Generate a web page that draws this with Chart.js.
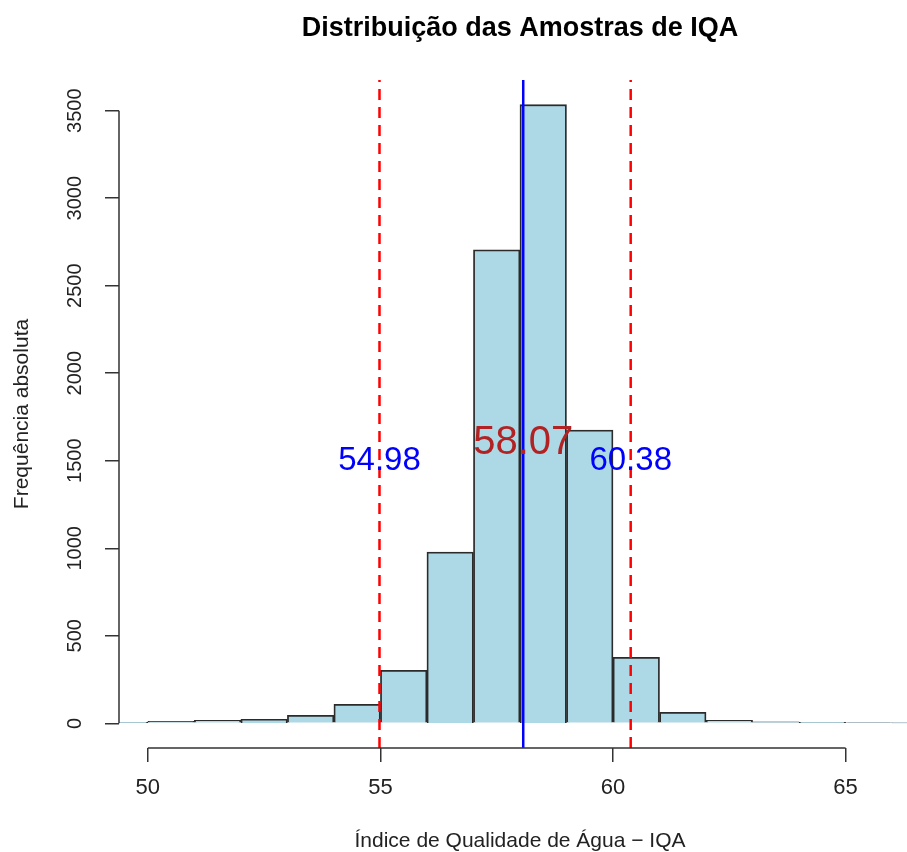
<!DOCTYPE html>
<html>
<head>
<meta charset="utf-8">
<script src="https://cdn.jsdelivr.net/npm/chart.js@4.4.0/dist/chart.umd.min.js"></script>
<style>
  body { margin: 0; background: #fff; }
  #wrap { width: 907px; height: 852px; position: relative; }
</style>
</head>
<body>
<div id="wrap"><canvas id="histChart"></canvas></div>
<script>
// histogram bins (left edges, width 1) and counts
const binStarts = [49, 50, 51, 52, 53, 54, 55, 56, 57, 58, 59, 60, 61, 62, 63, 64, 65, 66];
const counts    = [5, 11, 17, 23, 46, 109, 303, 978, 2705, 3534, 1675, 377, 63, 17, 9, 5, 3, 2];

// reference lines
const lowerQ = 54.98;
const meanVal = 58.07;
const upperQ = 60.38;

const xTicks = [50, 55, 60, 65];
const yTicks = [0, 500, 1000, 1500, 2000, 2500, 3000, 3500];

const xMin = 49.38, xMax = 66.32;
const yMin = -141, yMax = 3675;
const labelY = 1500;   // height of the blue labels
const meanLabelY = 1600;

const titleText = 'Distribuição das Amostras de IQA';
const xTitle = 'Índice de Qualidade de Água \u2212 IQA';
const yTitle = 'Frequência absoluta';

const FONT = '"Liberation Sans", Arial, sans-serif';

const vline = (x) => [{ x: x, y: yMin }, { x: x, y: yMax }];

// R-style axes: partial lines, rotated y labels, titles, text labels
const rStyle = {
    id: 'rStyle',
    afterDatasetsDraw(chart) {
        const ctx = chart.ctx;
        const xs = chart.scales.x, ys = chart.scales.y;
        const area = chart.chartArea;
        ctx.save();

        // axis lines only over tick range
        ctx.strokeStyle = '#333';
        ctx.lineWidth = 1.5;
        ctx.beginPath();
        ctx.moveTo(area.left, ys.getPixelForValue(yTicks[0]));
        ctx.lineTo(area.left, ys.getPixelForValue(yTicks[yTicks.length - 1]));
        ctx.moveTo(xs.getPixelForValue(xTicks[0]), area.bottom);
        ctx.lineTo(xs.getPixelForValue(xTicks[xTicks.length - 1]), area.bottom);
        ctx.stroke();

        // y tick labels, rotated
        ctx.fillStyle = '#222';
        ctx.font = '20px ' + FONT;
        ctx.textAlign = 'center';
        ctx.textBaseline = 'middle';
        yTicks.forEach(v => {
            ctx.save();
            ctx.translate(area.left - 44, ys.getPixelForValue(v));
            ctx.rotate(-Math.PI / 2);
            ctx.fillText(String(v), 0, 0);
            ctx.restore();
        });

        // y title
        ctx.font = '21px ' + FONT;
        ctx.save();
        ctx.translate(22, (area.top + area.bottom) / 2);
        ctx.rotate(-Math.PI / 2);
        ctx.fillText(yTitle, 0, 0);
        ctx.restore();

        // x title
        ctx.fillText(xTitle, (area.left + area.right) / 2 + 7, 841);

        // main title
        ctx.fillStyle = '#000';
        ctx.font = 'bold 27px ' + FONT;
        ctx.fillText(titleText, (area.left + area.right) / 2 + 7, 29);

        // value labels
        ctx.font = '33px ' + FONT;
        ctx.fillStyle = '#0000FF';
        ctx.fillText(lowerQ.toFixed(2), xs.getPixelForValue(lowerQ), ys.getPixelForValue(labelY));
        ctx.fillText(upperQ.toFixed(2), xs.getPixelForValue(upperQ), ys.getPixelForValue(labelY));
        ctx.font = '40px ' + FONT;
        ctx.fillStyle = '#B22222';
        ctx.fillText(meanVal.toFixed(2), xs.getPixelForValue(meanVal), ys.getPixelForValue(meanLabelY));

        ctx.restore();
    }
};

new Chart(document.getElementById('histChart'), {
    type: 'bar',
    data: {
        datasets: [
            {
                type: 'bar',
                data: binStarts.map((b, i) => ({ x: b + 0.5, y: counts[i] })),
                backgroundColor: '#ADD8E6',
                borderColor: '#2b2b2b',
                borderWidth: 1.8,
                barPercentage: 1,
                categoryPercentage: 1,
                order: 2
            },
            {
                type: 'line', data: vline(lowerQ), borderColor: '#FF0000', borderWidth: 2.5,
                borderDash: [11, 7], pointRadius: 0, order: 1
            },
            {
                type: 'line', data: vline(upperQ), borderColor: '#FF0000', borderWidth: 2.5,
                borderDash: [11, 7], pointRadius: 0, order: 1
            },
            {
                type: 'line', data: vline(meanVal), borderColor: '#0000FF', borderWidth: 2.5,
                pointRadius: 0, order: 0
            }
        ]
    },
    options: {
        responsive: true,
        maintainAspectRatio: false,
        animation: false,
        layout: { padding: { top: 80, left: 0, right: 0, bottom: 0 } },
        plugins: { legend: { display: false }, tooltip: { enabled: false }, title: { display: false } },
        scales: {
            x: {
                type: 'linear', min: xMin, max: xMax, offset: false,
                afterBuildTicks: (s) => { s.ticks = xTicks.map(v => ({ value: v })); },
                afterFit: (s) => { s.height = 104; },
                ticks: { font: { size: 22, family: FONT }, color: '#222', padding: 13, maxRotation: 0 },
                grid: { offset: false, drawOnChartArea: false, tickLength: 14, color: '#333', lineWidth: 1.5 },
                border: { display: false }
            },
            y: {
                type: 'linear', min: yMin, max: yMax,
                afterBuildTicks: (s) => { s.ticks = yTicks.map(v => ({ value: v })); },
                afterFit: (s) => { s.width = 119; },
                ticks: { display: false },
                grid: { drawOnChartArea: false, tickLength: 14, color: '#333', lineWidth: 1.5 },
                border: { display: false }
            }
        }
    },
    plugins: [rStyle]
});
</script>
</body>
</html>
